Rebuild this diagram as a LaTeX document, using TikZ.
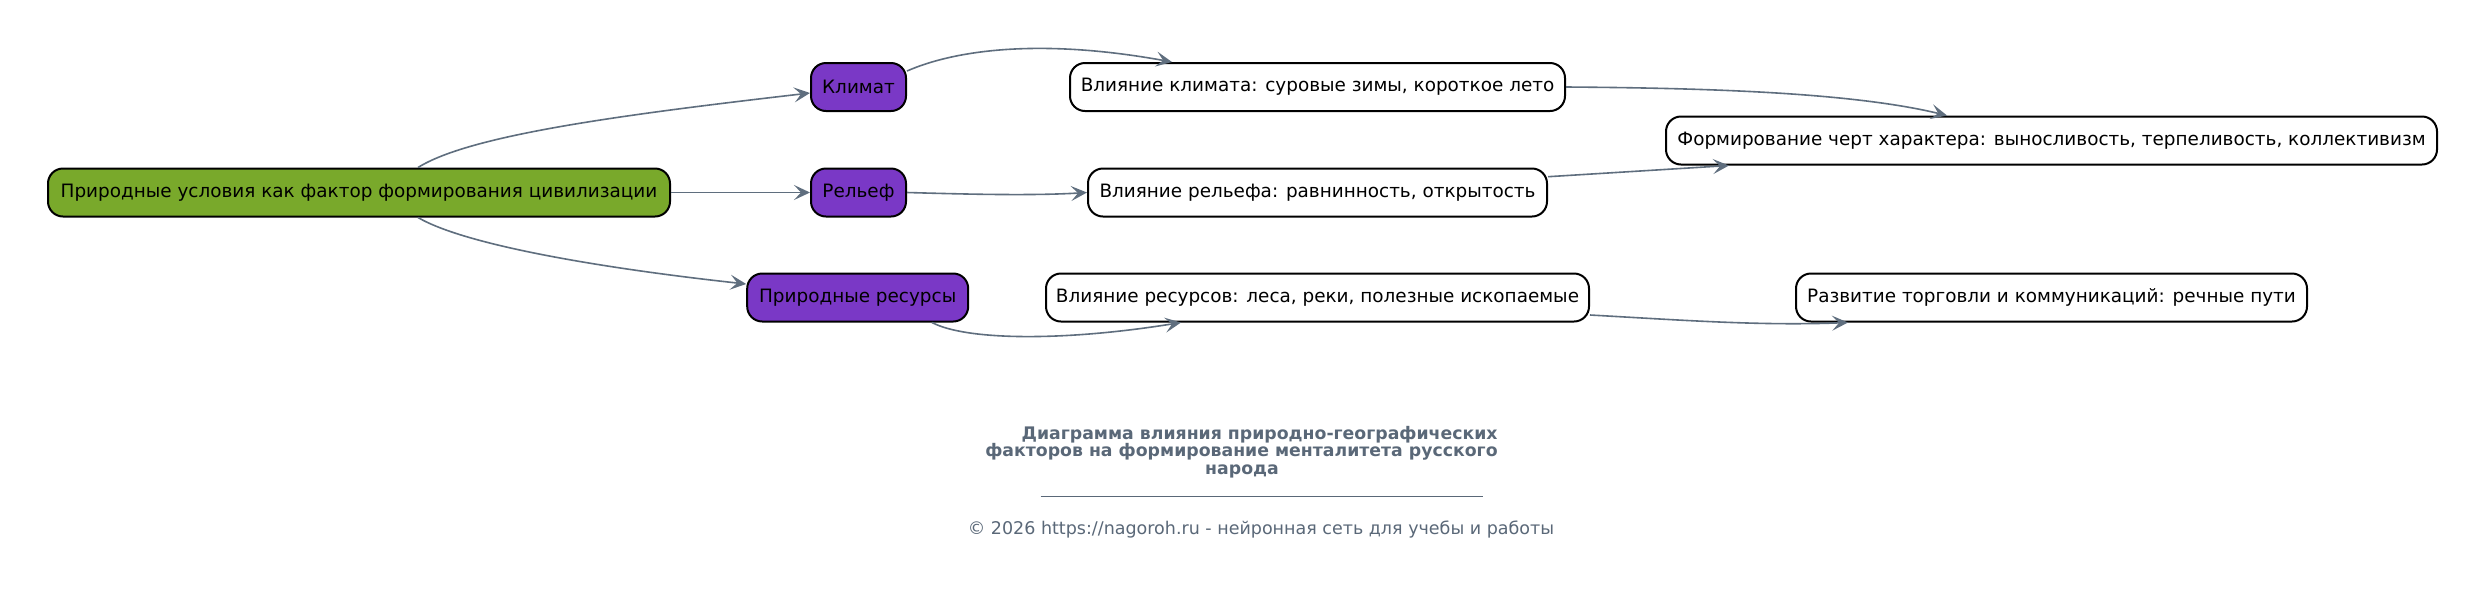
\documentclass[tikz,border=0pt]{standalone}
\usepackage{fontspec}
\setmainfont{DejaVu Sans}
\usetikzlibrary{arrows.meta}
\definecolor{rootgreen}{HTML}{79A92B}
\definecolor{purp}{HTML}{7A38C6}
\definecolor{edgec}{HTML}{5F6E7E}
\definecolor{titlec}{HTML}{5A6878}
\begin{document}
\begin{tikzpicture}[x=0.5pt,y=-0.5pt,
  box/.style={draw=black, line width=1pt, rounded corners=7.5pt, minimum height=24pt,
    inner sep=0pt, font=\fontsize{9.2}{11}\selectfont, text=black},
  arr/.style={draw=edgec, line width=0.8pt, -{Stealth[length=8pt,width=7.5pt,inset=3.5pt]}},
  ttl/.style={text=titlec, inner sep=0pt, font=\fontsize{8.65}{10}\selectfont\bfseries},
  foot/.style={text=titlec, inner sep=0pt, font=\fontsize{8.75}{10}\selectfont}]
\useasboundingbox[fill=white] (0,0) rectangle (2485,612);

\node[box, fill=rootgreen, minimum width=311pt] (root) at (359,192.5) {Природные условия как фактор формирования цивилизации};
\node[box, fill=purp, minimum width=47.5pt] (klimat) at (858.5,87) {Климат};
\node[box, fill=purp, minimum width=47.5pt] (relief) at (858.5,192.5) {Рельеф};
\node[box, fill=purp, minimum width=110.5pt] (res) at (857.7,297.5) {Природные ресурсы};
\node[box, fill=white, minimum width=247.5pt] (vk) at (1317.5,87) {Влияние климата: суровые зимы, короткое лето};
\node[box, fill=white, minimum width=229.5pt] (vr) at (1317.5,192.5) {Влияние рельефа: равнинность, открытость};
\node[box, fill=white, minimum width=271.5pt] (vs) at (1317.5,297.5) {Влияние ресурсов: леса, реки, полезные ископаемые};
\node[box, fill=white, minimum width=385.5pt] (form) at (2051.5,140.5) {Формирование черт характера: выносливость, терпеливость, коллективизм};
\node[box, fill=white, minimum width=255.5pt] (razv) at (2051.5,297.5) {Развитие торговли и коммуникаций: речные пути};

\draw[arr] ([xshift=29.5pt]root.north) .. controls (470,135) and (620,115) .. ([yshift=-3pt]klimat.west);
\draw[arr] (root.east) -- (relief.west);
\draw[arr] ([xshift=29.5pt]root.south) .. controls (465,245) and (600,268) .. ([yshift=6.75pt]res.west);
\draw[arr] ([yshift=8pt]klimat.east) .. controls (955,50) and (1040,38) .. ([xshift=-72.75pt]vk.north);
\draw[arr] (relief.east) .. controls (960,194) and (1030,196) .. (vr.west);
\draw[arr] ([xshift=37.15pt]res.south) .. controls (965,340) and (1060,342) .. ([xshift=-68.25pt]vs.south);
\draw[arr] (vk.east) .. controls (1700,88) and (1850,92) .. ([xshift=-52.25pt]form.north);
\draw[arr] ([yshift=7.9pt]vr.east) -- ([xshift=-161.25pt]form.south);
\draw[arr] ([yshift=-8.75pt]vs.east) .. controls (1680,320) and (1760,326) .. ([xshift=-101.75pt]razv.south);

\node[ttl, anchor=base east] (t1) at (1498,439.3) {Диаграмма влияния природно-географических};
\node[ttl, anchor=base east] (t2) at (1498,456.8) {факторов на формирование менталитета русского};
\node[ttl, anchor=base] (t3) at (1242,474) {народа};
\draw[titlec, line width=0.4pt] (1040.6,496.7) -- (1482.6,496.7);
\node[foot, anchor=base] (ft) at (1261,534.3) {© 2026 https://nagoroh.ru - нейронная сеть для учебы и работы};
\end{tikzpicture}
\end{document}
